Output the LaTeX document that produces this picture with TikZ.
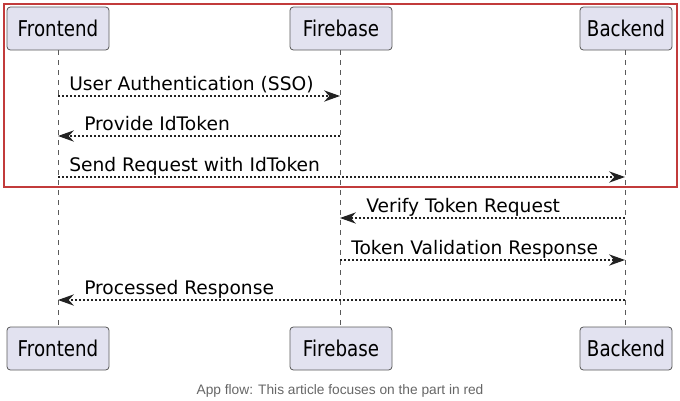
\documentclass[tikz,border=0pt]{standalone}
\usepackage{fontspec}
\setmainfont{DejaVu Sans}
\newfontfamily\partfont{DejaVu Sans}[FakeStretch=0.84]
\newfontfamily\capfont{Liberation Sans}
\usetikzlibrary{arrows.meta}
\definecolor{partfill}{HTML}{E2E2F0}
\definecolor{partline}{HTML}{5A5A5A}
\definecolor{msgline}{HTML}{222222}
\definecolor{focusred}{HTML}{C23B3B}
\definecolor{capgray}{HTML}{666666}
\begin{document}
\begin{tikzpicture}
[
   x=0.75pt, y=-0.75pt,
   part/.style={draw=partline,fill=partfill,rounded corners=2.5pt,line width=0.6pt,
     minimum height=32.25pt,inner sep=0pt,font=\partfont\fontsize{16.3}{18}\selectfont},
   life/.style={draw=partline,line width=0.6pt,dash pattern=on 3.75pt off 3.75pt},
   msg/.style={draw=msgline,line width=1pt,dash pattern=on 1.5pt off 1.5pt,
     -{Stealth[length=12pt,width=8.5pt,inset=4pt]}},
   lbl/.style={anchor=base west,inner sep=0pt,font=\fontsize{14}{16}\selectfont}
]
\useasboundingbox (0,0) rectangle (680,400);
\node[part,minimum width=76.5pt] (fe) at (58,28.5) {Frontend};
\node[part,minimum width=76.5pt] (fb) at (341,28.5) {Firebase};
\node[part,minimum width=69pt] (be) at (626,28.5) {Backend};
\node[part,minimum width=76.5pt] (fe2) at (58,348.5) {Frontend};
\node[part,minimum width=76.5pt] (fb2) at (341,348.5) {Firebase};
\node[part,minimum width=69pt] (be2) at (626,348.5) {Backend};
% lifelines
\draw[life] (fe.south) -- (fe2.north);
\draw[life] ([xshift=-0.75pt]fb.south) -- ([xshift=-0.75pt]fb2.north);
\draw[life] ([xshift=-0.75pt]be.south) -- ([xshift=-0.75pt]be2.north);
% points on the lifelines
\foreach \y [count=\i] in {96,136,177,218,260,300}
  \foreach \p/\x in {fe/58,fb/340,be/625}
    \coordinate (\p\i) at (\x,\y);
% messages
\draw[msg] (fe1) -- (fb1);
\node[lbl] (l1) at ([xshift=8.25pt,yshift=4.5pt]fe1) {User Authentication (SSO)};
\draw[msg] (fb2) -- (fe2);
\node[lbl] (l2) at ([xshift=19.5pt,yshift=4.5pt]fe2) {Provide IdToken};
\draw[msg] (fe3) -- (be3);
\node[lbl] (l3) at ([xshift=8.25pt,yshift=4.5pt]fe3) {Send Request with IdToken};
\draw[msg] (be4) -- (fb4);
\node[lbl] (l4) at ([xshift=19.5pt,yshift=4.5pt]fb4) {Verify Token Request};
\draw[msg] (fb5) -- (be5);
\node[lbl] (l5) at ([xshift=8.25pt,yshift=4.5pt]fb5) {Token Validation Response};
\draw[msg] (be6) -- (fe6);
\node[lbl] (l6) at ([xshift=19.5pt,yshift=4.5pt]fe6) {Processed Response};
% the part in red
\draw[focusred,line width=1.5pt] (4,3.5) rectangle (677,186.5);
\node[font=\capfont\fontsize{10.3}{12}\selectfont,text=capgray] (cap) at (340,391)
  {App flow: This article focuses on the part in red};
\end{tikzpicture}
\end{document}
